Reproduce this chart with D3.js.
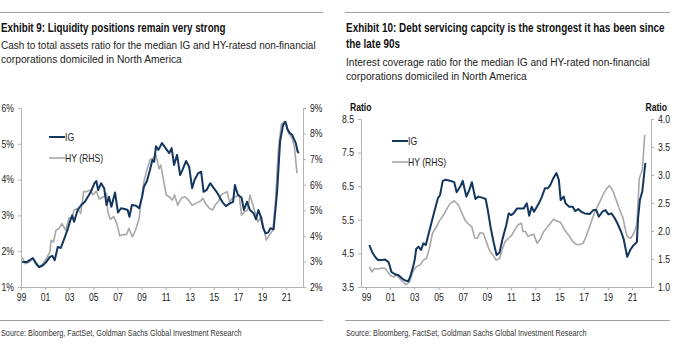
<!DOCTYPE html>
<html>
<head>
<meta charset="utf-8">
<script src="https://cdn.jsdelivr.net/npm/d3@7"></script>
<style>
  body { margin: 0; background: #fff; }
  text { font-family: "Liberation Sans", Arial, sans-serif; }
</style>
</head>
<body>
<div id="chart"></div>
<script>
// ---- data (decimal year, value) ----
const yearTicks = [1999, 2001, 2003, 2005, 2007, 2009, 2011, 2013, 2015, 2017, 2019, 2021];

// Exhibit 9: cash / total assets, %
const cashIG = [
  [1999.1,1.70],[1999.5,1.70],[1999.98,1.81],[2000.25,1.65],[2000.5,1.56],[2000.8,1.60],[2001.1,1.70],
  [2001.4,1.84],[2001.6,1.87],[2001.8,1.75],[2002.05,2.12],[2002.3,2.09],[2002.6,2.36],[2002.9,2.64],
  [2003.1,2.87],[2003.25,3.0],[2003.4,2.82],[2003.7,3.15],[2004.0,3.29],[2004.3,3.38],[2004.55,3.52],
  [2004.8,3.66],[2005.1,3.90],[2005.25,3.96],[2005.4,3.71],[2005.65,3.90],[2005.9,3.76],[2006.1,3.29],
  [2006.3,3.52],[2006.5,3.24],[2006.8,3.64],[2007.05,3.08],[2007.3,3.20],[2007.6,3.18],[2007.85,3.15],
  [2008.0,2.96],[2008.2,3.29],[2008.55,3.27],[2008.8,3.20],[2009.05,3.52],[2009.2,3.80],[2009.45,3.96],
  [2009.7,4.27],[2009.9,4.55],[2010.05,4.50],[2010.2,4.93],[2010.4,4.83],[2010.7,5.02],[2010.95,4.90],
  [2011.3,4.74],[2011.5,4.88],[2011.7,4.41],[2011.95,4.69],[2012.2,4.13],[2012.4,4.27],[2012.7,4.52],
  [2012.95,4.36],[2013.2,3.76],[2013.4,3.99],[2013.7,4.18],[2013.95,4.22],[2014.15,3.66],[2014.4,3.71],
  [2014.7,3.90],[2015.0,3.76],[2015.3,3.62],[2015.7,3.38],[2016.0,3.26],[2016.3,3.33],[2016.6,3.38],
  [2016.75,3.85],[2017.0,3.57],[2017.3,3.50],[2017.5,3.15],[2017.75,3.38],[2018.0,3.15],[2018.3,3.06],
  [2018.5,2.89],[2018.7,3.15],[2018.9,2.96],[2019.1,2.64],[2019.3,2.50],[2019.5,2.52],[2019.7,2.64],
  [2019.96,2.61],[2020.25,3.66],[2020.5,5.07],[2020.75,5.53],[2020.95,5.61],[2021.1,5.41],[2021.3,5.30],
  [2021.5,5.25],[2021.8,5.02],[2021.95,4.79],[2022.05,4.74]
];
const cashHY = [
  [1999.1,3.15],[1999.35,2.91],[1999.7,2.98],[1999.98,3.11],[2000.25,2.98],[2000.5,2.78],[2000.8,2.91],
  [2001.1,3.11],[2001.4,3.37],[2001.5,3.83],[2001.7,3.76],[2001.9,4.22],[2002.15,4.29],[2002.4,4.48],
  [2002.7,4.22],[2003.0,4.71],[2003.2,4.68],[2003.4,5.01],[2003.7,5.07],[2003.95,4.88],[2004.2,5.73],
  [2004.45,5.73],[2004.75,5.79],[2004.96,5.60],[2005.25,5.75],[2005.5,5.44],[2005.85,5.53],[2006.1,5.66],
  [2006.2,4.94],[2006.4,4.65],[2006.7,4.75],[2006.95,4.48],[2007.2,4.00],[2007.45,4.05],[2007.75,4.05],
  [2007.95,4.29],[2008.25,3.96],[2008.5,4.22],[2008.8,4.68],[2009.0,5.47],[2009.2,6.12],[2009.4,6.51],
  [2009.7,6.97],[2009.95,7.04],[2010.2,7.17],[2010.45,6.62],[2010.6,6.77],[2010.8,6.25],[2011.05,5.60],
  [2011.3,5.53],[2011.55,5.40],[2011.75,5.60],[2012.0,5.20],[2012.3,5.47],[2012.6,5.53],[2012.9,5.40],
  [2013.2,5.20],[2013.5,5.27],[2013.9,5.36],[2014.1,5.47],[2014.3,5.27],[2014.65,5.07],[2014.9,5.01],
  [2015.1,5.20],[2015.4,5.36],[2015.6,5.60],[2015.8,5.66],[2016.1,5.73],[2016.3,5.33],[2016.55,5.47],
  [2016.8,5.53],[2017.1,5.60],[2017.3,4.81],[2017.55,4.94],[2017.8,5.01],[2018.0,5.60],[2018.25,5.20],
  [2018.45,4.88],[2018.65,4.55],[2018.95,4.75],[2019.15,4.29],[2019.35,3.83],[2019.6,4.03],[2019.9,4.22],
  [2020.1,5.20],[2020.35,7.36],[2020.6,8.35],[2020.85,8.48],[2021.05,8.35],[2021.2,8.02],[2021.5,7.82],
  [2021.7,7.43],[2021.9,6.45]
];

// Exhibit 10: interest coverage ratio
const icrIG = [
  [1999.28,4.75],[1999.5,4.55],[1999.75,4.40],[2000.0,4.30],[2000.3,4.30],[2000.55,4.32],[2000.85,4.25],
  [2000.95,4.15],[2001.1,3.95],[2001.4,3.88],[2001.7,3.85],[2001.95,3.77],[2002.2,3.70],[2002.5,3.67],
  [2002.65,3.80],[2002.9,4.10],[2003.05,4.35],[2003.15,4.63],[2003.35,4.70],[2003.55,4.60],[2003.75,4.80],
  [2003.95,4.75],[2004.15,5.04],[2004.4,5.39],[2004.65,5.74],[2004.95,6.14],[2005.13,6.24],[2005.35,6.66],
  [2005.6,6.69],[2005.95,6.66],[2006.3,6.62],[2006.5,6.32],[2006.8,6.49],[2007.0,6.66],[2007.3,6.19],
  [2007.55,6.39],[2007.76,6.62],[2008.05,6.12],[2008.3,6.19],[2008.6,6.16],[2008.9,6.12],[2009.1,5.74],
  [2009.3,5.29],[2009.55,4.84],[2009.8,4.45],[2010.05,4.53],[2010.3,4.94],[2010.6,5.34],[2010.8,5.69],
  [2011.0,5.64],[2011.2,5.69],[2011.5,5.84],[2011.75,5.84],[2012.05,5.84],[2012.3,5.99],[2012.5,5.62],
  [2012.7,5.89],[2012.9,5.74],[2013.3,5.99],[2013.55,6.19],[2013.8,6.44],[2014.05,6.44],[2014.25,6.54],
  [2014.5,6.74],[2014.75,6.89],[2014.95,6.69],[2015.1,6.09],[2015.35,6.19],[2015.5,5.99],[2015.8,5.89],
  [2016.1,5.89],[2016.3,5.76],[2016.55,5.82],[2016.8,5.74],[2017.1,5.69],[2017.5,5.67],[2017.8,5.79],
  [2018.05,5.79],[2018.25,5.59],[2018.55,5.74],[2018.8,5.79],[2019.05,5.66],[2019.3,5.69],[2019.55,5.56],
  [2019.8,5.39],[2020.1,5.14],[2020.3,4.94],[2020.6,4.40],[2020.85,4.60],[2021.1,4.73],[2021.4,4.84],
  [2021.5,5.54],[2021.65,6.09],[2021.85,6.34],[2022.1,7.19]
];
const icrHY = [
  [1999.28,1.36],[1999.5,1.27],[1999.7,1.33],[2000.05,1.32],[2000.3,1.34],[2000.6,1.33],[2000.8,1.27],
  [2001.0,1.21],[2001.25,1.18],[2001.55,1.21],[2001.8,1.15],[2002.1,1.08],[2002.3,1.04],[2002.6,1.09],
  [2002.87,1.27],[2003.15,1.36],[2003.5,1.40],[2003.75,1.48],[2004.0,1.51],[2004.25,1.69],[2004.5,1.96],
  [2004.85,2.08],[2005.1,2.19],[2005.4,2.28],[2005.7,2.40],[2005.95,2.49],[2006.3,2.54],[2006.65,2.46],
  [2006.9,2.34],[2007.2,2.19],[2007.5,2.12],[2007.75,2.08],[2008.0,1.87],[2008.2,1.87],[2008.45,1.97],
  [2008.7,1.96],[2008.95,1.81],[2009.2,1.66],[2009.5,1.57],[2009.75,1.48],[2010.05,1.51],[2010.25,1.66],
  [2010.5,1.81],[2010.8,1.87],[2011.07,1.93],[2011.3,2.02],[2011.57,2.11],[2011.85,2.14],[2011.98,1.99],
  [2012.2,1.99],[2012.4,1.90],[2012.65,1.93],[2012.87,1.94],[2013.15,1.78],[2013.4,1.85],[2013.7,1.99],
  [2013.97,2.06],[2014.25,2.14],[2014.5,2.21],[2014.8,2.18],[2015.1,2.15],[2015.35,2.05],[2015.6,1.97],
  [2015.85,1.90],[2016.1,1.81],[2016.4,1.76],[2016.7,1.76],[2016.95,1.78],[2017.2,1.90],[2017.5,2.08],
  [2017.8,2.27],[2018.05,2.40],[2018.4,2.55],[2018.65,2.67],[2018.95,2.77],[2019.15,2.81],[2019.45,2.70],
  [2019.7,2.55],[2019.99,2.37],[2020.25,2.24],[2020.46,2.02],[2020.6,1.90],[2020.9,1.87],[2021.15,1.96],
  [2021.4,2.11],[2021.6,2.94],[2021.85,3.09],[2022.05,3.72]
];

const cashTicksL = [1, 2, 3, 4, 5, 6];
const cashTicksR = [2, 3, 4, 5, 6, 7, 8, 9];
const icrTicksL = [3.5, 4.5, 5.5, 6.5, 7.5, 8.5];
const icrTicksR = [1.0, 1.5, 2.0, 2.5, 3.0, 3.5, 4.0];

const igColor = "#13365f", hyColor = "#a8a8a8", axisColor = "#b3b3b3", textColor = "#222";
const NARROW = 0.82;   // Liberation Sans squeezed ~ Arial Narrow

const svg = d3.select("#chart").append("svg")
  .attr("width", 676)
  .attr("height", 351);

// squeeze text horizontally around its x anchor (by a factor, or to a fixed width)
function squeeze(node, k) {
  let ax = +node.getAttribute("x") || 0;
  let old = node.getAttribute("transform") || "";
  node.setAttribute("transform", `${old} translate(${ax * (1 - k)},0) scale(${k},1)`);
}
function narrow(sel) {
  sel.each(function() { squeeze(this, NARROW); });
}
function fitTo(sel, w) {
  sel.each(function() { squeeze(this, w / this.getComputedTextLength()); });
}

function Panel(o) {
  let g = svg.append("g");

  // header rule + titles
  g.append("line")
    .attr("x1", o.left0).attr("x2", o.left0 + o.ruleW)
    .attr("y1", 12.5).attr("y2", 12.5)
    .attr("stroke", "#a0a0a0").attr("stroke-width", 1);

  o.head.forEach(h => {
    g.append("text").attr("x", o.left0 + 1).attr("y", h.y)
      .attr("font-size", h.bold ? "12px" : "11.5px")
      .attr("font-weight", h.bold ? "bold" : "normal")
      .attr("fill", h.bold ? "#111" : "#222")
      .text(h.t)
      .call(fitTo, h.w);
  });

  // footer
  g.append("line")
    .attr("x1", o.left0).attr("x2", o.left0 + o.ruleW)
    .attr("y1", 320.5).attr("y2", 320.5)
    .attr("stroke", "#a0a0a0").attr("stroke-width", 1);
  g.append("text").attr("x", o.left0 + 1).attr("y", 336.5)
    .attr("font-size", "9px").attr("fill", "#333")
    .text("Source: Bloomberg, FactSet, Goldman Sachs Global Investment Research")
    .call(fitTo, 241);

  let x = d3.scaleLinear().domain(o.xDomain).range([o.x0, o.x1]);
  let yL = d3.scaleLinear().domain(o.yLDomain).range([o.yBottom, o.yTop]);
  let yR = d3.scaleLinear().domain(o.yRDomain).range([o.yBottom, o.yTop]);

  // axes
  let xAxis = d3.axisBottom(x).tickValues(yearTicks).tickSize(3).tickPadding(4).tickSizeOuter(0)
    .tickFormat(d => String(d % 100).padStart(2, "0"));
  let leftAxis = d3.axisLeft(yL).tickValues(o.ticksL).tickSize(3).tickPadding(4).tickSizeOuter(0).tickFormat(o.fmtL);
  let rightAxis = d3.axisRight(yR).tickValues(o.ticksR).tickSize(3).tickPadding(4).tickSizeOuter(0).tickFormat(o.fmtR);

  [[xAxis, `translate(0,${o.yBottom})`], [leftAxis, `translate(${o.x0},0)`], [rightAxis, `translate(${o.x1},0)`]]
    .forEach(([ax, tr]) => {
      g.append("g").attr("transform", tr).call(ax)
        .call(a => a.select(".domain").attr("stroke", axisColor))
        .call(a => a.selectAll(".tick line").attr("stroke", axisColor))
        .call(a => a.selectAll(".tick text").attr("fill", textColor).attr("font-size", "10.5px")
          .attr("font-family", "'Liberation Sans', Arial, sans-serif").call(narrow));
    });

  if (o.unit) {
    g.append("text").attr("x", o.x0 - 11).attr("y", o.yTop - 8)
      .attr("font-size", "10.5px").attr("font-weight", "bold").attr("fill", "#111").text(o.unit).call(narrow);
    g.append("text").attr("x", o.x1 + 16).attr("y", o.yTop - 8).attr("text-anchor", "end")
      .attr("font-size", "10.5px").attr("font-weight", "bold").attr("fill", "#111").text(o.unit).call(narrow);
  }

  // lines
  let lineL = d3.line().x(d => x(d[0])).y(d => yL(d[1]));
  let lineR = d3.line().x(d => x(d[0])).y(d => yR(d[1]));
  g.append("path").datum(o.hy).attr("d", lineR)
    .attr("fill", "none").attr("stroke", hyColor).attr("stroke-width", 1.6).attr("stroke-linejoin", "round");
  g.append("path").datum(o.ig).attr("d", lineL)
    .attr("fill", "none").attr("stroke", igColor).attr("stroke-width", 2).attr("stroke-linejoin", "round");

  // legend
  let leg = g.selectAll(".leg")
    .data([["IG", igColor, 2], ["HY (RHS)", hyColor, 1.6]])
    .join("g").attr("class", "leg")
    .attr("transform", (d, i) => `translate(${o.legX},${o.legY + i * 21})`);
  leg.append("line").attr("x1", 0).attr("x2", 16)
    .attr("stroke", d => d[1]).attr("stroke-width", d => d[2]);
  leg.append("text").attr("x", 16).attr("dy", "0.35em")
    .attr("font-size", "10.5px").attr("fill", textColor).text(d => d[0]).call(narrow);
}

Panel({
  left0: 0, ruleW: 323,
  head: [
    {t: "Exhibit 9: Liquidity positions remain very strong", y: 32, bold: true, w: 225},
    {t: "Cash to total assets ratio for the median IG and HY-ratesd non-financial", y: 49, w: 315},
    {t: "corporations domiciled in North America", y: 63.5, w: 181}
  ],
  xDomain: [1999, 2022.4], x0: 21, x1: 303,
  yTop: 108, yBottom: 287,
  yLDomain: [1, 6], yRDomain: [2, 9],
  ticksL: cashTicksL, ticksR: cashTicksR,
  fmtL: d => d + "%", fmtR: d => d + "%",
  ig: cashIG, hy: cashHY,
  legX: 49, legY: 137
});

Panel({
  left0: 345, ruleW: 325,
  head: [
    {t: "Exhibit 10: Debt servicing capcity is the strongest it has been since", y: 32, bold: true, w: 319},
    {t: "the late 90s", y: 48.5, bold: true, w: 54},
    {t: "Interest coverage ratio for the median IG and HY-rated non-financial", y: 66, w: 304},
    {t: "corporations domiciled in North America", y: 80.5, w: 181}
  ],
  xDomain: [1998.59, 2022.57], x0: 361, x1: 651,
  yTop: 119, yBottom: 287,
  yLDomain: [3.5, 8.5], yRDomain: [1, 4],
  ticksL: icrTicksL, ticksR: icrTicksR,
  fmtL: d3.format(".1f"), fmtR: d3.format(".1f"),
  unit: "Ratio",
  ig: icrIG, hy: icrHY,
  legX: 392, legY: 141
});
</script>
</body>
</html>
